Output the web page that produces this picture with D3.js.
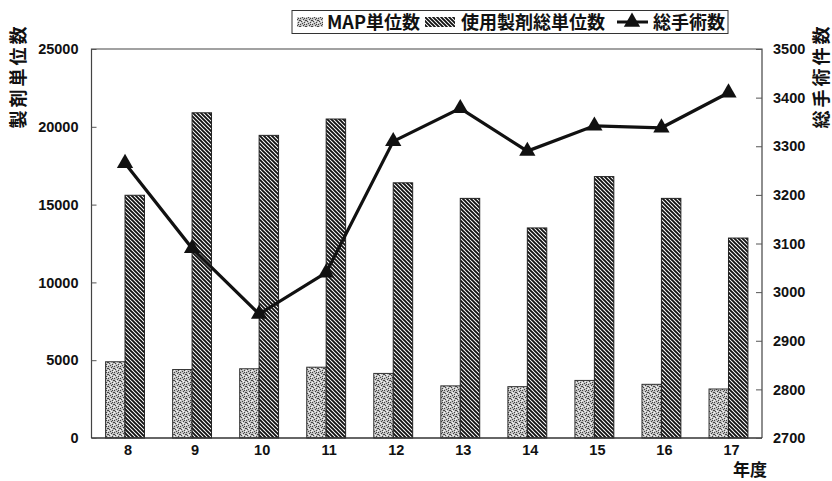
<!DOCTYPE html>
<html><head><meta charset="utf-8">
<script src="https://cdn.jsdelivr.net/npm/d3@7"></script>
<style>
body{margin:0;background:#fff;}
svg{display:block;}
text{font-family:"Liberation Sans","Noto Sans CJK JP",Arial,sans-serif;font-weight:bold;fill:#111;}
.jp{font-family:"Noto Sans CJK JP","Liberation Sans",sans-serif;font-weight:bold;}
</style></head>
<body>
<script>
const categories = ["8","9","10","11","12","13","14","15","16","17"];
const mapUnits = [4900,4400,4450,4550,4150,3350,3300,3700,3450,3150];
const totalUnits = [15600,20900,19450,20500,16400,15400,13500,16800,15400,12850];
const surgeries = [3265,3090,2955,3040,3310,3378,3290,3342,3338,3410];
const leftTicks = [0,5000,10000,15000,20000,25000];
const rightTicks = [2700,2800,2900,3000,3100,3200,3300,3400,3500];
const seriesNames = ["MAP単位数","使用製剤総単位数","総手術数"];
const leftTitle = "製剤単位数";
const rightTitle = "総手術件数";
const xTitle = "年度";

const W=832,H=481;
const L=91.5,R=762,T=49,B=438;
const svg=d3.select("body").append("svg").attr("width",W).attr("height",H);
const defs=svg.append("defs");

// stipple pattern
const p1=defs.append("pattern").attr("id","stip").attr("patternUnits","userSpaceOnUse").attr("width",6).attr("height",6);
p1.append("rect").attr("width",6).attr("height",6).attr("fill","#c4c4c4");
[[0,0],[3,1],[1,3],[4,4],[5,2],[2,5],[0,2],[4,0]].forEach(d=>p1.append("rect").attr("x",d[0]).attr("y",d[1]).attr("width",1).attr("height",1).attr("fill","#444"));
[[2,2],[5,5],[0,4],[3,3]].forEach(d=>p1.append("rect").attr("x",d[0]).attr("y",d[1]).attr("width",1).attr("height",1).attr("fill","#f4f4f4"));

// diagonal stripe pattern (\\\)
const p2=defs.append("pattern").attr("id","diag").attr("patternUnits","userSpaceOnUse").attr("width",4).attr("height",4);
p2.append("rect").attr("width",4).attr("height",4).attr("fill","#fff");
p2.append("path").attr("d","M-1,-1 L5,5 M-1,3 L1,5 M3,-1 L5,1").attr("stroke","#111").attr("stroke-width",1.9);

const x=d3.scaleBand().domain(categories).range([L,R]).paddingInner(0.42).paddingOuter(0.21);
const xs=d3.scaleBand().domain([0,1]).range([0,x.bandwidth()]);
const yL=d3.scaleLinear().domain([0,25000]).range([B,T]);
const yR=d3.scaleLinear().domain([2700,3500]).range([B,T]);

// frame
svg.append("path").attr("d",`M${L},${B} V${T} H${R} V${B}`).attr("fill","none").attr("stroke","#444").attr("stroke-width",1.2);

// bars
const g=svg.append("g");
g.selectAll(".b1").data(mapUnits).join("rect")
 .attr("x",(d,i)=>x(categories[i])+xs(0)).attr("width",xs.bandwidth())
 .attr("y",d=>yL(d)).attr("height",d=>B-yL(d))
 .attr("fill","url(#stip)").attr("stroke","#333").attr("stroke-width",1);
g.selectAll(".b2").data(totalUnits).join("rect")
 .attr("x",(d,i)=>x(categories[i])+xs(1)).attr("width",xs.bandwidth())
 .attr("y",d=>yL(d)).attr("height",d=>B-yL(d))
 .attr("fill","url(#diag)").attr("stroke","#222").attr("stroke-width",1);

// bottom line
svg.append("line").attr("x1",L).attr("x2",R).attr("y1",B).attr("y2",B).attr("stroke","#333").attr("stroke-width",1.4);

// axes
const ax1=svg.append("g").attr("transform",`translate(${L},0)`).call(d3.axisLeft(yL).tickValues(leftTicks).tickSizeInner(-5).tickSizeOuter(0).tickPadding(13).tickFormat(d3.format("d")));
const ax2=svg.append("g").attr("transform",`translate(${R},0)`).call(d3.axisRight(yR).tickValues(rightTicks).tickSizeInner(-6).tickSizeOuter(0).tickPadding(11).tickFormat(d3.format("d")));
const ax3=svg.append("g").attr("transform",`translate(0,${B})`).call(d3.axisBottom(x).tickSize(0).tickPadding(7));
[ax1,ax2,ax3].forEach(a=>{a.select(".domain").remove();a.selectAll("line").attr("stroke","#555");a.selectAll("text").attr("font-size",14.5).attr("font-family","Liberation Sans, Arial, sans-serif").attr("font-weight","bold").attr("fill","#111");});
ax3.selectAll("text").attr("dx",3);

// line
const cx=(d,i)=>x(categories[i])+x.bandwidth()/2;
svg.append("path").datum(surgeries)
 .attr("d",d3.line().x(cx).y(d=>yR(d)))
 .attr("fill","none").attr("stroke","#111").attr("stroke-width",3.2).attr("stroke-linejoin","miter");
const tri=d3.symbol().type(d3.symbolTriangle).size(115);
svg.selectAll(".tri").data(surgeries).join("path")
 .attr("transform",(d,i)=>`translate(${cx(d,i)},${yR(d)})`).attr("d",tri).attr("fill","#111");

// titles
svg.append("text").attr("class","jp").attr("transform","translate(25,76) rotate(-90)").attr("text-anchor","middle").attr("font-size",18).attr("letter-spacing",3).text(leftTitle);
svg.append("text").attr("class","jp").attr("transform","translate(828,76) rotate(-90)").attr("text-anchor","middle").attr("font-size",18).attr("letter-spacing",3).text(rightTitle);
svg.append("text").attr("class","jp").attr("x",750).attr("y",476).attr("text-anchor","middle").attr("font-size",17).text(xTitle);

// legend
const lg=svg.append("g");
lg.append("rect").attr("x",292).attr("y",10.5).attr("width",436).attr("height",23).attr("fill","#fff").attr("stroke","#333").attr("stroke-width",1);
lg.append("rect").attr("x",297).attr("y",17).attr("width",26).attr("height",10).attr("fill","url(#stip)");
lg.append("text").attr("class","jp").attr("x",327).attr("y",29).attr("font-size",18).text(seriesNames[0]);
lg.append("rect").attr("x",425).attr("y",17).attr("width",30).attr("height",10).attr("fill","url(#diag)");
lg.append("text").attr("class","jp").attr("x",461).attr("y",29).attr("font-size",18).text(seriesNames[1]);
lg.append("line").attr("x1",617).attr("x2",648).attr("y1",22).attr("y2",22).attr("stroke","#111").attr("stroke-width",3);
lg.append("path").attr("transform","translate(632,22)").attr("d",tri).attr("fill","#111");
lg.append("text").attr("class","jp").attr("x",653).attr("y",29).attr("font-size",18).text(seriesNames[2]);
</script>
</body></html>
